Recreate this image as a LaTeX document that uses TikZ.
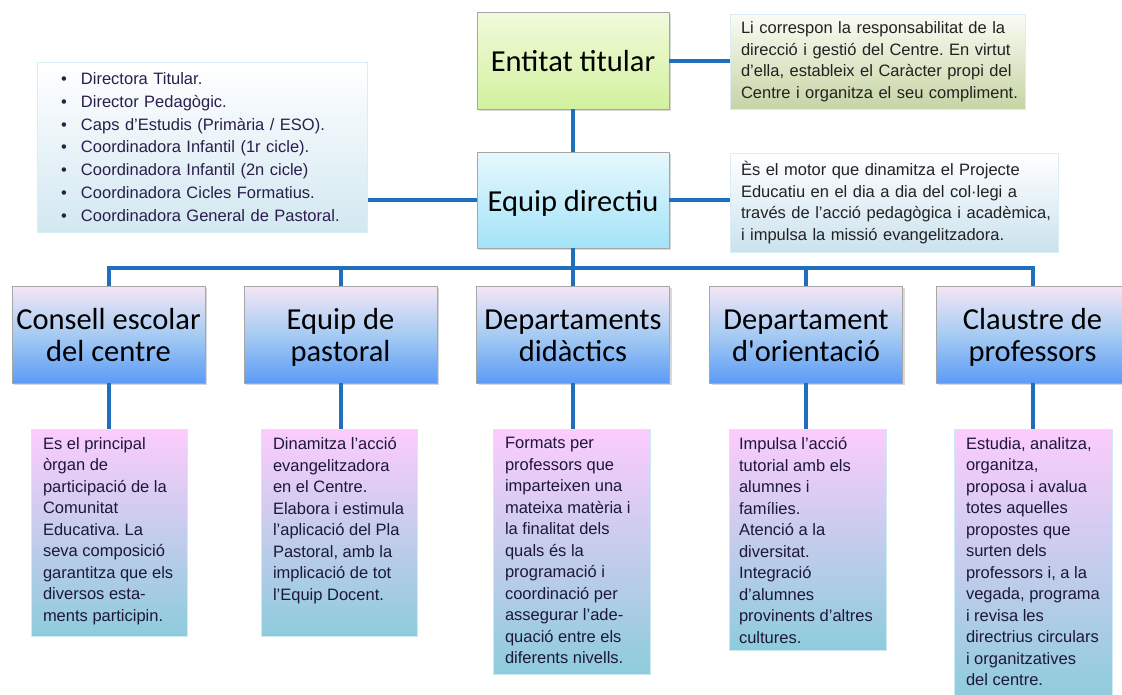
\documentclass[tikz,border=0pt]{standalone}
\usepackage{fontspec}
\setmainfont{Liberation Sans}
\newfontfamily\titlefont{Carlito}
\newfontfamily\descfont{Liberation Sans}
\usetikzlibrary{shadows}
\frenchspacing
\definecolor{connblue}{HTML}{1F6FBF}
\definecolor{enttop}{HTML}{F0FADC}
\definecolor{entbot}{HTML}{D3F19E}
\definecolor{eqtop}{HTML}{E6F8FD}
\definecolor{eqbot}{HTML}{A3E3F8}
\definecolor{orgtop}{HTML}{F5E6F4}
\definecolor{orgmid}{HTML}{A6CBF3}
\definecolor{orgbot}{HTML}{5C9BF5}
\definecolor{desctop}{HTML}{FCCCFC}
\definecolor{descbot}{HTML}{8DCCDC}
\definecolor{descborder}{HTML}{CDEBF5}
\definecolor{nonetop}{HTML}{FAFCF4}
\definecolor{nonebot}{HTML}{C6D4A4}
\definecolor{ntwotop}{HTML}{FFFFFF}
\definecolor{ntwobot}{HTML}{CBE2EE}
\definecolor{bltop}{HTML}{FFFFFF}
\definecolor{blbot}{HTML}{D2E8F1}
\definecolor{noteborder}{HTML}{D9EDF5}
\definecolor{desctext}{HTML}{1E1838}
\definecolor{notetext}{HTML}{222222}
\definecolor{bullettext}{HTML}{2A1E4C}
\newcommand\myl[1]{\mbox{#1}\\}
\newcommand\dbox[3]{\parbox[t][#1][t]{#2}{\frenchspacing\raggedright #3}}
\newcommand\bul{\makebox[20pt][l]{•}}
\newcommand\tsa{\rule[-8pt]{0pt}{38pt}}
\newcommand\tst{\rule[-8pt]{0pt}{32pt}}
\tikzset{
  conn/.style={draw=connblue, line width=4pt},
  ttlbox/.style={draw=black!35, line width=0.8pt, minimum height=97pt,
    inner sep=0pt, align=center, text=black,
    font=\titlefont\fontsize{30.5}{32}\selectfont,
    drop shadow={shadow xshift=2pt, shadow yshift=-2pt, opacity=0.3}},
  orgbox/.style={ttlbox, minimum width=193pt, top color=orgtop, bottom color=orgbot, middle color=orgmid},
  descbox/.style={draw=descborder, line width=1pt, top color=desctop, bottom color=descbot,
    inner xsep=12pt, inner ysep=8pt, anchor=north, text=desctext,
    font=\descfont\fontsize{16.5}{21.5}\selectfont},
  notebox/.style={draw=noteborder, line width=1pt, inner xsep=11pt, inner ysep=0pt,
    align=left, text=notetext, font=\descfont\fontsize{16.5}{21.5}\selectfont},
}
\begin{document}
\begin{tikzpicture}[x=1pt,y=-1pt]
\useasboundingbox (0,0) rectangle (1122,694);
\clip (0,0) rectangle (1122,694);
\fill[white] (0,0) rectangle (1122,694);

% top boxes
\node[ttlbox, minimum width=192pt, top color=enttop, bottom color=entbot] (ent) at (573,60.5) {\tsa Entitat titular};
\node[ttlbox, minimum width=192pt, minimum height=96pt, top color=eqtop, bottom color=eqbot] (eq) at (573,200) {\tsa Equip directiu};

% notes
\node[notebox, top color=nonetop, bottom color=nonebot, text width=273pt, minimum height=95pt] (r1) at (877.5,61.5)
 {\myl{Li correspon la responsabilitat de la}\myl{direcció i gestió del Centre. En virtut}\myl{d’ella, estableix el Caràcter propi del}\mbox{Centre i organitza el seu compliment.}};
\node[notebox, top color=ntwotop, bottom color=ntwobot, text width=306pt, minimum height=99pt] (r2) at (894,202.5)
 {\myl{Ès el motor que dinamitza el Projecte}\myl{Educatiu en el dia a dia del col·legi a}\myl{través de l’acció pedagògica i acadèmica,}\mbox{i impulsa la missió evangelitzadora.}};
\node[notebox, top color=bltop, bottom color=blbot, text width=282pt, inner xsep=24pt, minimum height=170pt,
  text=bullettext, font=\descfont\fontsize{16.5}{22.8}\selectfont] (bl) at (202,147)
 {\bul Directora Titular.\\ \bul Director Pedagògic.\\ \bul Caps d’Estudis (Primària / ESO).\\
  \bul Coordinadora Infantil (1r cicle).\\ \bul Coordinadora Infantil (2n cicle)\\
  \bul Coordinadora Cicles Formatius.\\ \bul Coordinadora General de Pastoral.};

% organ boxes
\node[orgbox] (b1) at (108.5,334.5) {\tsa Consell escolar\\\tst del centre};
\node[orgbox] (b2) at (340.5,334.5) {\tsa Equip de\\\tst pastoral};
\node[orgbox] (b3) at (573,334.5) {\tsa Departaments\\\tst didàctics};
\node[orgbox] (b4) at (806,334.5) {\tsa Departament\\\tst d'orientació};
\node[orgbox] (b5) at (1032.5,334.5) {\tsa Claustre de\\\tst professors};

% description boxes
\node[descbox] (d1) at (109,429) {\dbox{191pt}{132pt}{\myl{Es el principal}\myl{òrgan de}\myl{participació de la}\myl{Comunitat}\myl{Educativa. La}\myl{seva composició}\myl{garantitza que els}\myl{diversos esta-}\mbox{ments participin.}}};
\node[descbox] (d2) at (339,429) {\dbox{191pt}{132pt}{\myl{Dinamitza l’acció}\myl{evangelitzadora}\myl{en el Centre.}\myl{Elabora i estimula}\myl{l’aplicació del Pla}\myl{Pastoral, amb la}\myl{implicació de tot}\mbox{l’Equip Docent.}}};
\node[descbox] (d3) at (571.5,429) {\dbox{229pt}{133pt}{\myl{Formats per}\myl{professors que}\myl{imparteixen una}\myl{mateixa matèria i}\myl{la finalitat dels}\myl{quals és la}\myl{programació i}\myl{coordinació per}\myl{assegurar l’ade-}\myl{quació entre els}\mbox{diferents nivells.}}};
\node[descbox, inner xsep=10pt] (d4) at (807.5,429) {\dbox{205pt}{137pt}{\myl{Impulsa l’acció}\myl{tutorial amb els}\myl{alumnes i}\myl{famílies.}\myl{Atenció a la}\myl{diversitat.}\myl{Integració}\myl{d’alumnes}\myl{provinents d’altres}\mbox{cultures.}}};
\node[descbox] (d5) at (1033,429) {\dbox{255pt}{134pt}{\myl{Estudia, analitza,}\myl{organitza,}\myl{proposa i avalua}\myl{totes aquelles}\myl{propostes que}\myl{surten dels}\myl{professors i, a la}\myl{vegada, programa}\myl{i revisa les}\myl{directrius circulars}\myl{i organitzatives}\mbox{del centre.}}};

% connectors
\coordinate (bus) at (573,268);
\draw[conn] (ent.south) -- (eq.north);
\draw[conn] (ent.east) -- (ent.east -| r1.west);
\draw[conn] (eq.east) -- (eq.east -| r2.west);
\draw[conn] (eq.west) -- (eq.west -| bl.east);
\draw[conn] (eq.south) -- (bus);
\foreach \b in {b1,b2,b3,b4,b5} {\draw[conn] (bus) -| (\b.north);}
\foreach \b/\d in {b1/d1,b2/d2,b3/d3,b4/d4,b5/d5} {\draw[conn] (\b.south) -- (\b.south |- \d.north);}
\end{tikzpicture}
\end{document}
